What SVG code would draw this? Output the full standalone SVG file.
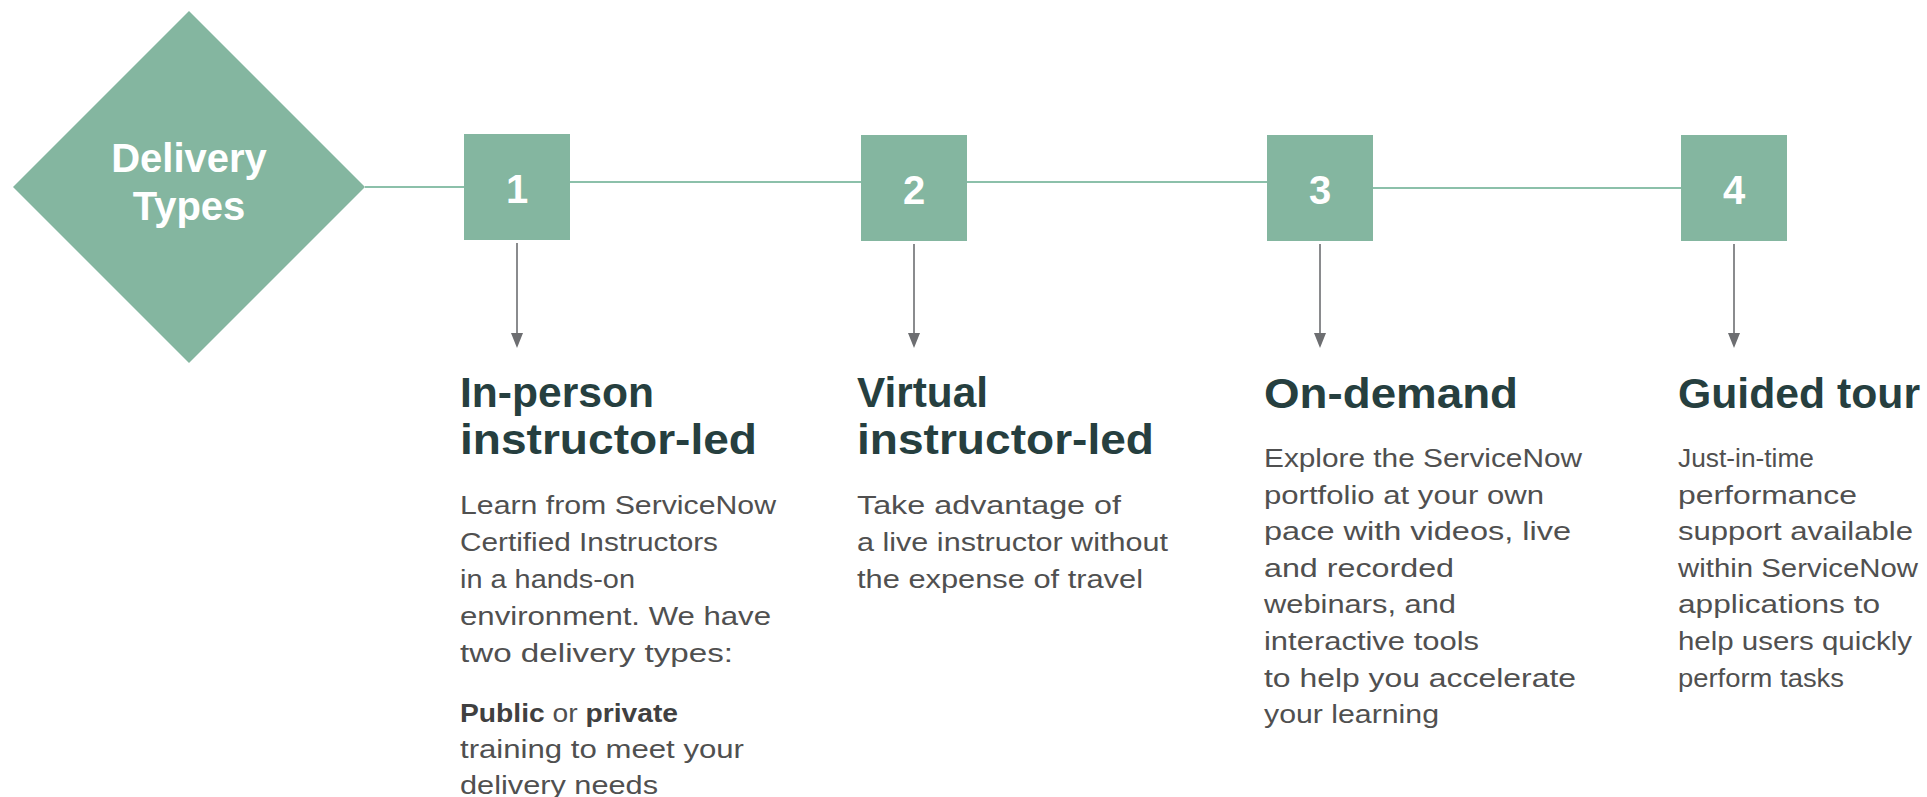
<svg xmlns="http://www.w3.org/2000/svg" width="1927" height="797" viewBox="0 0 1927 797">
<style>
.shape{fill:#84b6a0}
.lbl{font-family:"Liberation Sans",Arial,sans-serif;font-weight:bold;fill:#ffffff;text-anchor:middle}
.title{font-family:"Liberation Sans",Arial,sans-serif;font-weight:bold;font-size:43px;fill:#263f3f}
.body{font-family:"Liberation Sans",Arial,sans-serif;font-size:25px;fill:#505050}
.b{font-weight:bold;fill:#404040}
.link{stroke:#8cc0aa;stroke-width:2;fill:none}
.arrow{stroke:#6d6e71;stroke-width:1.6;fill:none}
.head{fill:#6d6e71}
</style>
<rect width="1927" height="797" fill="#ffffff"/>
<g id="connectors">
<line class="link" x1="365" y1="187" x2="464" y2="187"/>
<line class="link" x1="570" y1="182" x2="861" y2="182"/>
<line class="link" x1="967" y1="182" x2="1267" y2="182"/>
<line class="link" x1="1372" y1="188" x2="1681" y2="188"/>
<line class="arrow" x1="517" y1="243" x2="517" y2="336"/>
<polygon class="head" points="511,333 523,333 517,348"/>
<line class="arrow" x1="914" y1="244" x2="914" y2="336"/>
<polygon class="head" points="908,333 920,333 914,348"/>
<line class="arrow" x1="1320" y1="244" x2="1320" y2="336"/>
<polygon class="head" points="1314,333 1326,333 1320,348"/>
<line class="arrow" x1="1734" y1="244" x2="1734" y2="336"/>
<polygon class="head" points="1728,333 1740,333 1734,348"/>
</g>
<g id="delivery-types">
<polygon class="shape" points="13,187 189,11 365,187 189,363"/>
<text class="lbl" font-size="40" x="189" y="172">Delivery</text>
<text class="lbl" font-size="40" x="189" y="220">Types</text>
</g>
<g id="step-1">
<rect class="shape" x="464" y="134" width="106" height="106"/>
<text class="lbl" font-size="40" x="517" y="203">1</text>
</g>
<g id="step-2">
<rect class="shape" x="861" y="135" width="106" height="106"/>
<text class="lbl" font-size="40" x="914" y="204">2</text>
</g>
<g id="step-3">
<rect class="shape" x="1267" y="135" width="106" height="106"/>
<text class="lbl" font-size="40" x="1320" y="204">3</text>
</g>
<g id="step-4">
<rect class="shape" x="1681" y="135" width="106" height="106"/>
<text class="lbl" font-size="40" x="1734" y="204">4</text>
</g>
<g id="col-1">
<text class="title" x="460" y="407" textLength="194" lengthAdjust="spacingAndGlyphs">In-person</text>
<text class="title" x="460" y="454" textLength="297" lengthAdjust="spacingAndGlyphs">instructor-led</text>
<text class="body" x="460" y="514" textLength="316" lengthAdjust="spacingAndGlyphs">Learn from ServiceNow</text>
<text class="body" x="460" y="551" textLength="258" lengthAdjust="spacingAndGlyphs">Certified Instructors</text>
<text class="body" x="460" y="588" textLength="175" lengthAdjust="spacingAndGlyphs">in a hands-on</text>
<text class="body" x="460" y="625" textLength="311" lengthAdjust="spacingAndGlyphs">environment. We have</text>
<text class="body" x="460" y="662" textLength="273" lengthAdjust="spacingAndGlyphs">two delivery types:</text>
<text class="body" x="460" y="722" textLength="218" lengthAdjust="spacingAndGlyphs"><tspan class="b">Public</tspan> or <tspan class="b">private</tspan></text>
<text class="body" x="460" y="758" textLength="284" lengthAdjust="spacingAndGlyphs">training to meet your</text>
<text class="body" x="460" y="794" textLength="198" lengthAdjust="spacingAndGlyphs">delivery needs</text>
</g>
<g id="col-2">
<text class="title" x="857" y="407" textLength="131" lengthAdjust="spacingAndGlyphs">Virtual</text>
<text class="title" x="857" y="454" textLength="297" lengthAdjust="spacingAndGlyphs">instructor-led</text>
<text class="body" x="857" y="514" textLength="264" lengthAdjust="spacingAndGlyphs">Take advantage of</text>
<text class="body" x="857" y="551" textLength="311" lengthAdjust="spacingAndGlyphs">a live instructor without</text>
<text class="body" x="857" y="588" textLength="286" lengthAdjust="spacingAndGlyphs">the expense of travel</text>
</g>
<g id="col-3">
<text class="title" x="1264" y="408" textLength="254" lengthAdjust="spacingAndGlyphs">On-demand</text>
<text class="body" x="1264" y="467" textLength="318" lengthAdjust="spacingAndGlyphs">Explore the ServiceNow</text>
<text class="body" x="1264" y="504" textLength="280" lengthAdjust="spacingAndGlyphs">portfolio at your own</text>
<text class="body" x="1264" y="540" textLength="307" lengthAdjust="spacingAndGlyphs">pace with videos, live</text>
<text class="body" x="1264" y="577" textLength="190" lengthAdjust="spacingAndGlyphs">and recorded</text>
<text class="body" x="1264" y="613" textLength="192" lengthAdjust="spacingAndGlyphs">webinars, and</text>
<text class="body" x="1264" y="650" textLength="215" lengthAdjust="spacingAndGlyphs">interactive tools</text>
<text class="body" x="1264" y="687" textLength="312" lengthAdjust="spacingAndGlyphs">to help you accelerate</text>
<text class="body" x="1264" y="723" textLength="175" lengthAdjust="spacingAndGlyphs">your learning</text>
</g>
<g id="col-4">
<text class="title" x="1678" y="408" textLength="242" lengthAdjust="spacingAndGlyphs">Guided tour</text>
<text class="body" x="1678" y="467" textLength="136" lengthAdjust="spacingAndGlyphs">Just-in-time</text>
<text class="body" x="1678" y="504" textLength="179" lengthAdjust="spacingAndGlyphs">performance</text>
<text class="body" x="1678" y="540" textLength="235" lengthAdjust="spacingAndGlyphs">support available</text>
<text class="body" x="1678" y="577" textLength="240" lengthAdjust="spacingAndGlyphs">within ServiceNow</text>
<text class="body" x="1678" y="613" textLength="202" lengthAdjust="spacingAndGlyphs">applications to</text>
<text class="body" x="1678" y="650" textLength="234" lengthAdjust="spacingAndGlyphs">help users quickly</text>
<text class="body" x="1678" y="687" textLength="166" lengthAdjust="spacingAndGlyphs">perform tasks</text>
</g>
</svg>
